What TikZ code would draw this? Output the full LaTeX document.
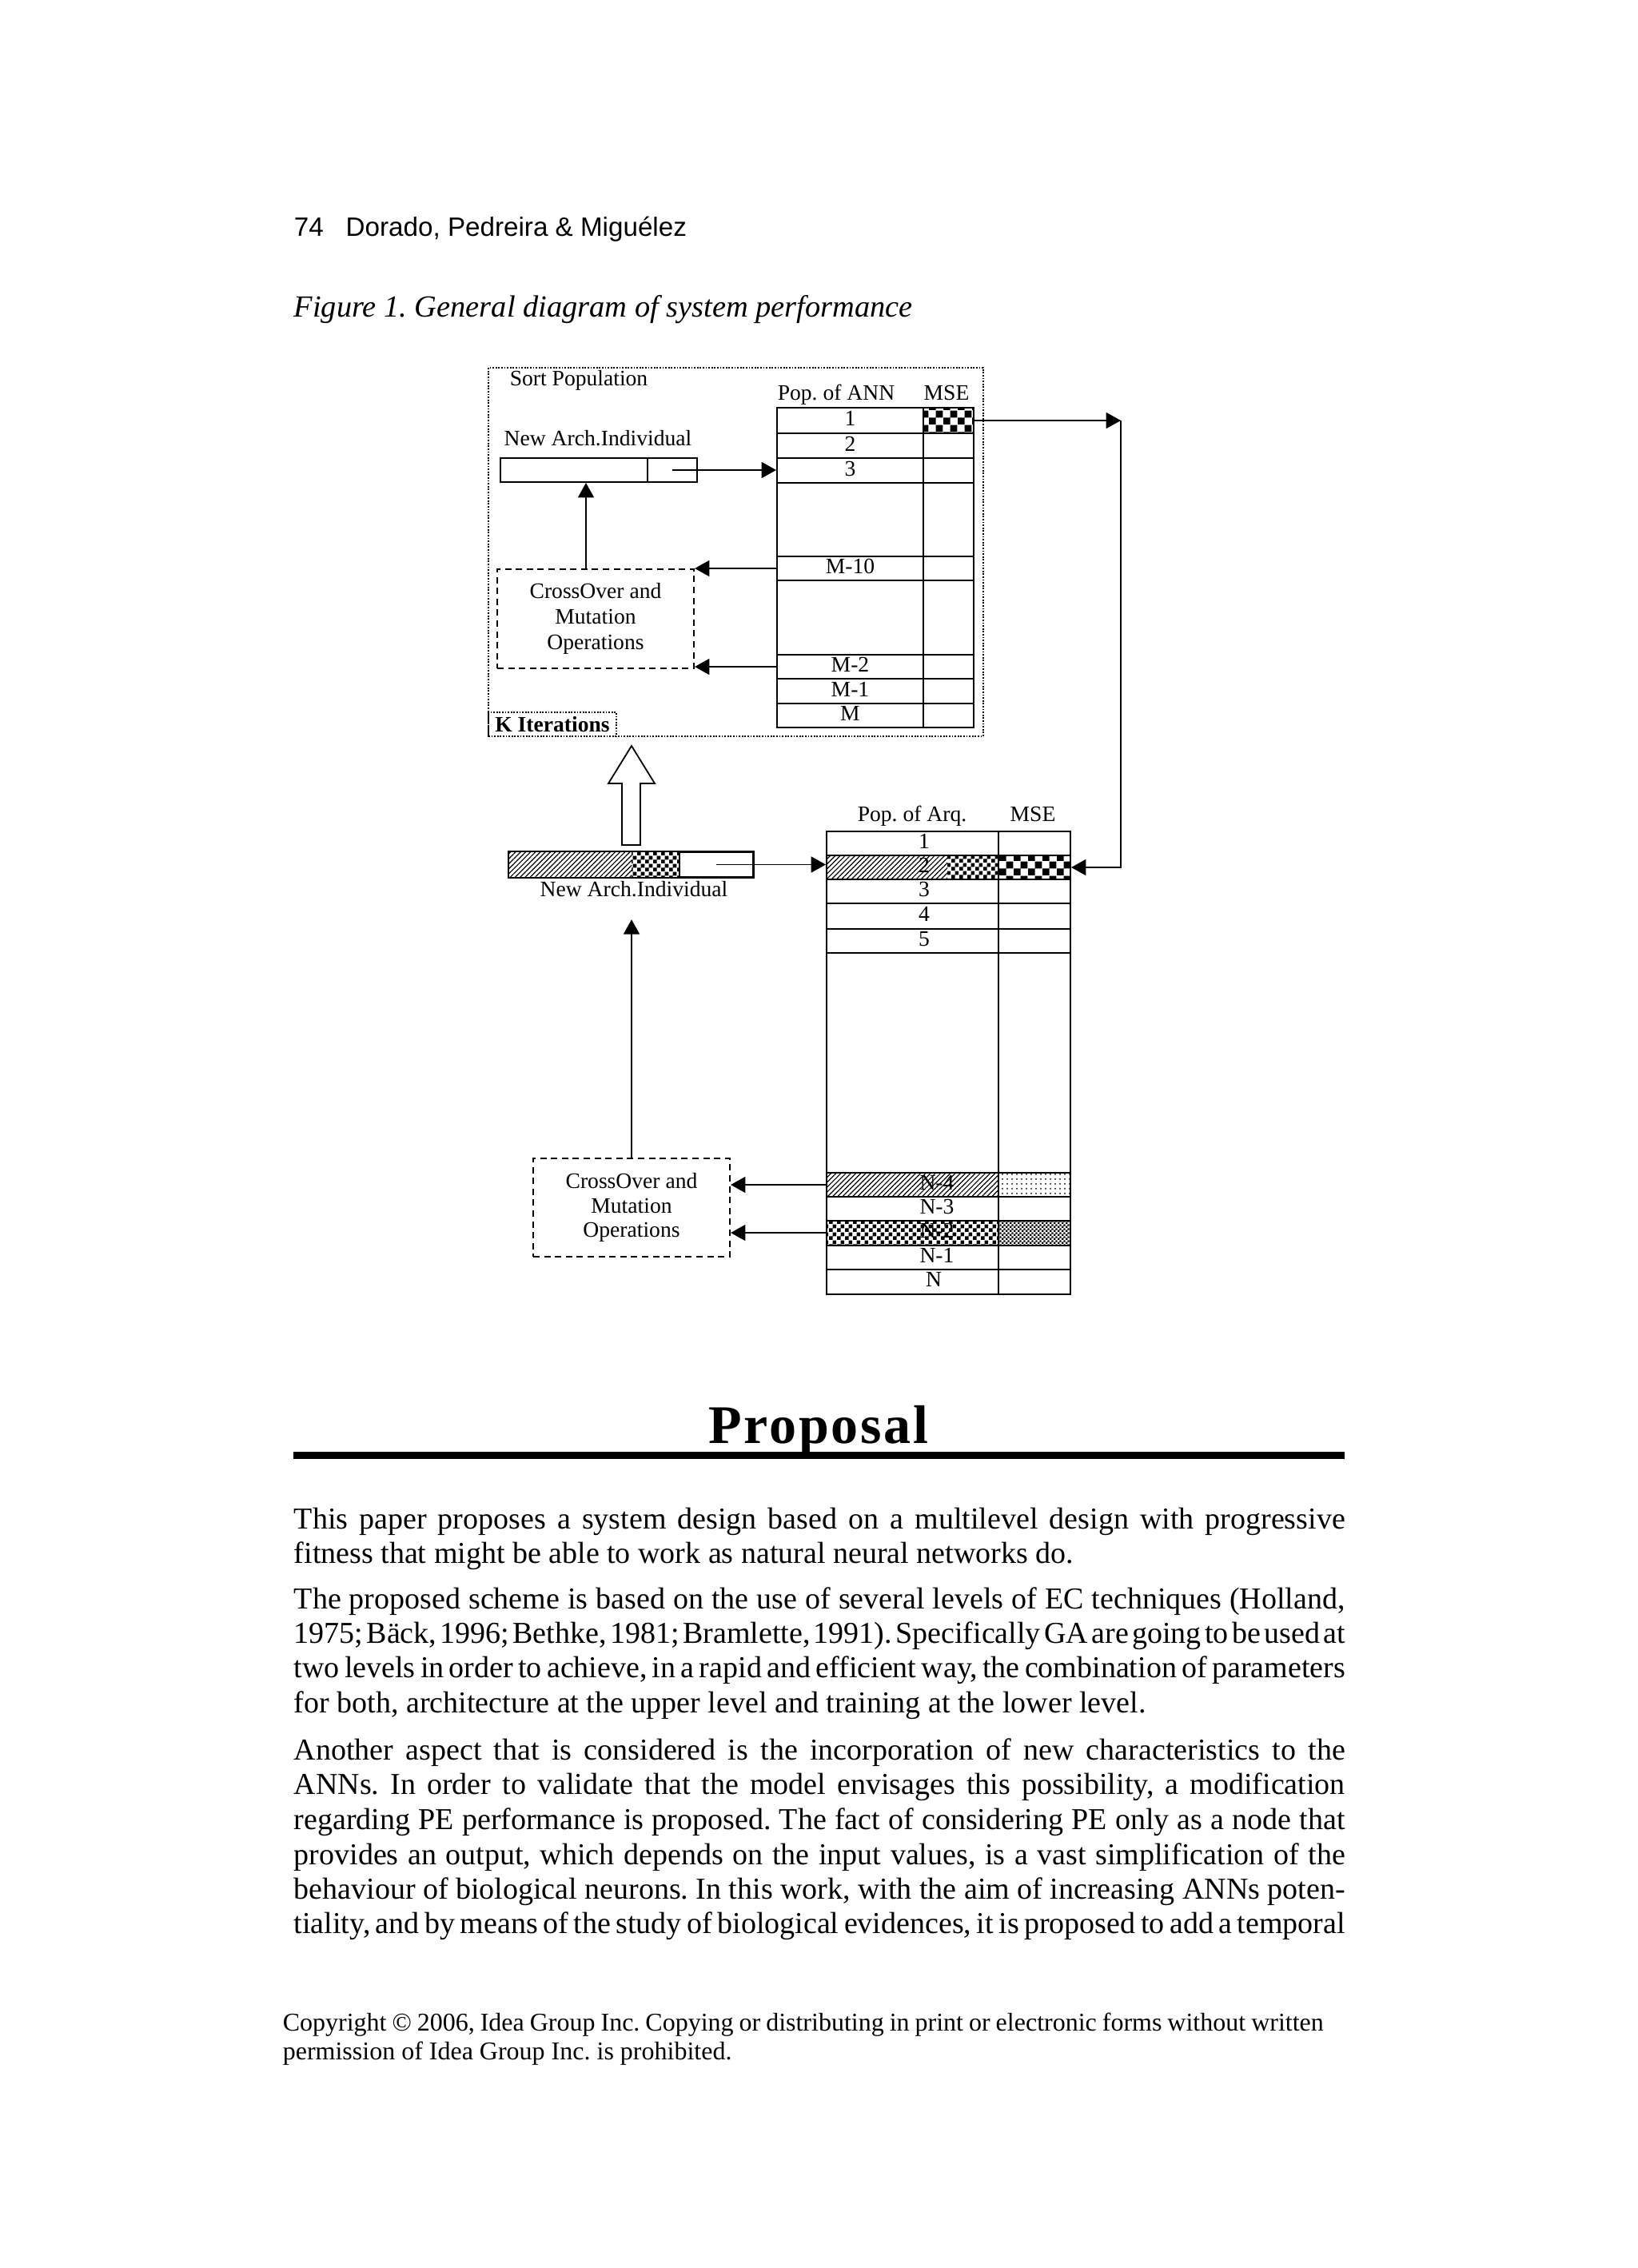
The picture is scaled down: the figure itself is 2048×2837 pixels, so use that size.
\documentclass[tikz,border=0pt]{standalone}
\usepackage{fontspec}
\setmainfont{Liberation Serif}
\newfontfamily\hdrfont{Liberation Sans}
\newfontfamily\headfont[LetterSpace=4]{Liberation Serif}
\usetikzlibrary{positioning,arrows.meta,patterns,patterns.meta}
\frenchspacing

\newcommand{\diagfont}{\fontsize{6.9}{8}\selectfont}
\newcommand{\jline}[2][328.75pt]{\hbox to #1{\spaceskip=0.25em plus 1em minus 0.22em\relax #2}}

\tikzdeclarepattern{name=coarsechk, type=uncolored,
  bottom left={(0pt,0pt)}, top right={(4.4pt,4.4pt)}, tile size={(4.4pt,4.4pt)},
  code={\pgfpathrectangle{\pgfpointorigin}{\pgfqpoint{2.2pt}{2.2pt}}
        \pgfpathrectangle{\pgfqpoint{2.2pt}{2.2pt}}{\pgfqpoint{2.2pt}{2.2pt}}
        \pgfusepath{fill}}}
\tikzdeclarepattern{name=finechk, type=uncolored,
  bottom left={(0pt,0pt)}, top right={(2.4pt,2.4pt)}, tile size={(2.4pt,2.4pt)},
  code={\pgfpathrectangle{\pgfpointorigin}{\pgfqpoint{1.2pt}{1.2pt}}
        \pgfpathrectangle{\pgfqpoint{1.2pt}{1.2pt}}{\pgfqpoint{1.2pt}{1.2pt}}
        \pgfusepath{fill}}}
\tikzdeclarepattern{name=tinychk, type=uncolored,
  bottom left={(0pt,0pt)}, top right={(1.2pt,1.2pt)}, tile size={(1.2pt,1.2pt)},
  code={\pgfpathrectangle{\pgfpointorigin}{\pgfqpoint{0.6pt}{0.6pt}}
        \pgfpathrectangle{\pgfqpoint{0.6pt}{0.6pt}}{\pgfqpoint{0.6pt}{0.6pt}}
        \pgfusepath{fill}}}

\begin{document}
\begin{tikzpicture}[x=0.25pt,y=-0.25pt,
	dtext/.style={font=\diagfont,inner sep=0.5pt,text height=4.8pt,text depth=1.4pt},
	cell/.style={draw,line width=0.5pt,inner sep=0pt,minimum height=7.5pt},
	fillcell/.style={inner sep=0pt,minimum height=7.75pt},
	dotbox/.style={draw,line width=0.45pt,dash pattern=on 0.45pt off 0.45pt,inner sep=0pt},
	dashbox/.style={draw,line width=0.5pt,dash pattern=on 2pt off 1.4pt,inner sep=0pt,font=\diagfont,align=center},
	tabline/.style={line width=0.5pt},
	arr/.style={line width=0.45pt,-{Triangle[length=4.6pt,width=5pt]}},
	hatch/.style={pattern={Lines[angle=45,distance=1.1pt,line width=0.3pt]}},
	dotted fill/.style={pattern={Dots[distance=1.5pt,radius=0.25pt]}},
	hdr/.style={font=\hdrfont\fontsize{8.3}{10}\selectfont,anchor=base west,inner sep=0pt},
	caption/.style={font=\itshape\fontsize{9.6}{11}\selectfont,anchor=base west,inner sep=0pt},
	body/.style={font=\fontsize{9.5}{11}\selectfont,anchor=base west,inner sep=0pt},
	small/.style={font=\fontsize{8}{9}\selectfont,anchor=base west,inner sep=0pt}]
	\useasboundingbox (0,0) rectangle (2048,2837);

	% page head and caption
	\node[hdr]		(head)	at (367,295)	{74\hskip7pt Dorado, Pedreira \& Miguélez};
	\node[caption]	(cap)	at (367,396)	{Figure 1. General diagram of system performance};

	% upper level: training of the ANN population
	\node[dotbox,minimum width=154.75pt,minimum height=115.25pt]		(pop)		at (920.5,690.5)	{};
	\node[dtext]															(sortlbl)	at (724,476)		{Sort Population};
	\node[dotbox,font=\diagfont\bfseries,minimum width=40pt,minimum height=7.5pt]	(kit)	at (691,906)	{K Iterations};

	\node[cell,minimum width=61.5pt,minimum height=100pt]					(utab)		at (1095,710)		{};
	\draw[tabline] (1155,510) -- (1155,910);
	\foreach \y in {542,573,604,696,726,819,849,880}
		\draw[tabline] (972,\y) -- (1218,\y);
	\foreach \n/\y/\t in {1/526/1,2/557.5/2,3/588.5/3,m10/711/M-10,m2/834/M-2,m1/864.5/M-1,m/895/M}
		\node[dtext] (ur\n) at (1063.5,\y) {\t};
	\node[cell,pattern=coarsechk,minimum width=15.75pt,minimum height=8pt]	(umse)		at (1186.5,526)		{};
	\node[dtext]	(uann)		at (1046,494)	{Pop. of ANN};
	\node[dtext]	(umsehd)	at (1184,494)	{MSE};

	\node[cell,minimum width=46pt]		(ua)	at (718,588)	{};
	\node[cell,minimum width=15.5pt]	(ub)	at (841,588)	{};
	\node[dtext]						(uname)	at (748,551)	{New Arch.Individual};
	\node[dashbox,minimum width=61.5pt,minimum height=31pt]	(ucx)	at (745,774)	{CrossOver and\\Mutation\\Operations};

	\draw[arr] (ub.center) -- (utab.west |- ub.center);
	\draw[arr] ([xshift=-3pt]ucx.north) -- ([xshift=-3pt]ucx.north |- ua.south);
	\draw[arr] (utab.west |- urm10) -- (ucx.east |- urm10);
	\draw[arr] (utab.west |- urm2) -- (ucx.east |- urm2);

	% lower level: population of architectures
	\draw[line width=0.45pt,fill=white] (778,1057) -- (778,980) -- (761,980) -- (790,933) -- (819,980) -- (801,980) -- (801,1057) -- cycle;

	\node[fillcell,hatch,minimum width=38.25pt]			(la)	at (713.5,1081.5)	{};
	\node[fillcell,pattern=finechk,minimum width=15pt]	(lb)	at (820,1081.5)		{};
	\node[cell,minimum width=23pt,minimum height=7.75pt]	(lc)	at (896,1081.5)		{};
	\draw[tabline] (la.north west) rectangle (lc.south east);
	\node[dtext]	(lname)	at (793,1115)	{New Arch.Individual};

	\fill[hatch] (1034,1070) rectangle (1185,1100);
	\fill[pattern=finechk] (1185,1070) rectangle (1249,1100);
	\fill[hatch] (1034,1467) rectangle (1249,1497);
	\fill[dotted fill] (1249,1467) rectangle (1339,1497);
	\fill[pattern=finechk] (1034,1527) rectangle (1249,1558);
	\fill[pattern=tinychk] (1249,1527) rectangle (1339,1558);
	\node[cell,minimum width=76.25pt,minimum height=144.75pt]	(ltab)	at (1186.5,1329.5)	{};
	\draw[tabline] (1249,1040) -- (1249,1619);
	\foreach \y in {1070,1100,1130,1162,1192,1467,1497,1527,1558,1588}
		\draw[tabline] (1034,\y) -- (1339,\y);
	\foreach \n/\x/\y/\t in {1/1156/1055/1,2/1156/1085/2,3/1156/1115/3,4/1156/1146/4,5/1156/1177/5,
			n4/1172/1482/N-4,n3/1172/1512/N-3,n2/1172/1542/N-2,n1/1172/1573/N-1,n/1168/1603/N}
		\node[dtext] (lr\n) at (\x,\y) {\t};
	\node[cell,pattern=coarsechk,minimum width=22.5pt]	(lmse)	at (1294,1085)	{};
	\node[dtext]	(lann)		at (1141,1021)	{Pop. of Arq.};
	\node[dtext]	(lmsehd)	at (1292,1021)	{MSE};

	\node[dashbox,font=\fontsize{6.9}{7.6}\selectfont,minimum width=61.5pt,minimum height=30.75pt]	(lcx)	at (790,1510.5)	{CrossOver and\\Mutation\\Operations};

	\draw[arr] (lc.center) -- (ltab.west |- lc.center);
	\draw[arr,shorten >=5pt] (lcx.north) -- (lcx.north |- lname.south);
	\draw[arr] (ltab.west |- lrn4) -- (lcx.east |- lrn4);
	\draw[arr] (ltab.west |- lrn2) -- (lcx.east |- lrn2);

	\coordinate (bend) at (1402,1085);
	\draw[arr] (umse.east) -- (umse.east -| bend);
	\draw[arr] (umse.east -| bend) -- (bend) -- (lmse.east);

	% section text
	\node[font=\headfont\bfseries\fontsize{17}{20}\selectfont,anchor=base,inner sep=0pt]	(prop)	at (1024,1805)	{Proposal};
	\draw[line width=2.25pt] (367,1820) -- (1682,1820);

	\node[body] (t1)  at (367,1912) {\jline{This paper proposes a system design based on a multilevel design with progressive}};
	\node[body] (t2)  at (367,1955) {fitness that might be able to work as natural neural networks do.};
	\node[body] (t3)  at (367,2012) {\jline{The proposed scheme is based on the use of several levels of EC techniques (Holland,}};
	\node[body] (t4)  at (367,2055) {\jline{1975; Bäck, 1996; Bethke, 1981; Bramlette, 1991). Specifically GA are going to be used at}};
	\node[body] (t5)  at (367,2098) {\jline{two levels in order to achieve, in a rapid and efficient way, the combination of parameters}};
	\node[body] (t6)  at (367,2142) {for both, architecture at the upper level and training at the lower level.};
	\node[body] (t7)  at (367,2201) {\jline{Another aspect that is considered is the incorporation of new characteristics to the}};
	\node[body] (t8)  at (367,2244) {\jline{ANNs. In order to validate that the model envisages this possibility, a modification}};
	\node[body] (t9)  at (367,2288) {\jline{regarding PE performance is proposed. The fact of considering PE only as a node that}};
	\node[body] (t10) at (367,2332) {\jline{provides an output, which depends on the input values, is a vast simplification of the}};
	\node[body] (t11) at (367,2375) {\jline{behaviour of biological neurons. In this work, with the aim of increasing ANNs poten-}};
	\node[body] (t12) at (367,2418) {\jline{tiality, and by means of the study of biological evidences, it is proposed to add a temporal}};

	\node[small] (c1) at (353,2540) {\jline[325.5pt]{Copyright © 2006, Idea Group Inc. Copying or distributing in print or electronic forms without written}};
	\node[small] (c2) at (353,2576) {permission of Idea Group Inc. is prohibited.};
\end{tikzpicture}
\end{document}
